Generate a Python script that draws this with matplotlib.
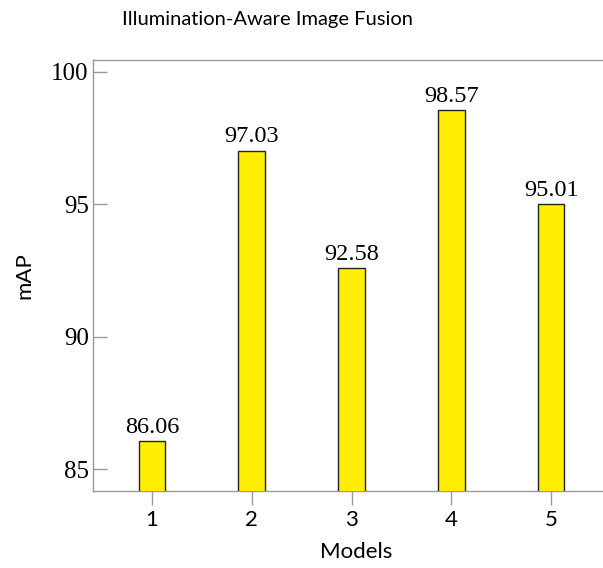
import matplotlib
matplotlib.use('Agg')
import matplotlib.pyplot as plt

# data
models = [1, 2, 3, 4, 5]
map_vals = [86.06, 97.03, 92.58, 98.57, 95.01]
yticks = [85, 90, 95, 100]

sans = 'Lato'
serif = 'Liberation Serif'

fig = plt.figure(figsize=(6.03, 5.68), dpi=100)
# right spine sits just outside the picture, as in the original
ax = fig.add_axes([93/603, 1 - 491/568, (619 - 93)/603, (491 - 60)/568])

bars = ax.bar(models, map_vals, width=0.265, color='#ffee00',
              edgecolor='#222222', linewidth=1.0, zorder=3)
for b, v in zip(bars, map_vals):
    ax.text(b.get_x() + b.get_width()/2, v + 0.12, f'{v:.2f}',
            ha='center', va='bottom', fontsize=17.5, family=serif)

ax.set_xlim(0.41, 5.68)
ax.set_ylim(84.17, 100.45)
ax.set_xticks(models)
ax.set_xticklabels([str(m) for m in models], fontsize=16, family=sans)
ax.set_yticks(yticks)
ax.set_yticklabels([str(t) for t in yticks], fontsize=18, family=serif)

for s in ['left', 'bottom', 'top', 'right']:
    ax.spines[s].set_color('#999999')
    ax.spines[s].set_linewidth(1.0)
ax.tick_params(axis='y', direction='in', length=10, color='#999999', width=1.0, pad=3)
ax.tick_params(axis='x', direction='out', length=10, color='#999999', width=1.0, pad=4)

ax.set_xlabel('Models', fontsize=16, family=sans, labelpad=8)
ax.set_ylabel('mAP', fontsize=16, family=sans, labelpad=12)
fig.text(267.5/603, 1 - 20/568, 'Illumination-Aware Image Fusion',
         ha='center', va='center', fontsize=14.5, family=sans)

fig.savefig('out.png', dpi=100)
